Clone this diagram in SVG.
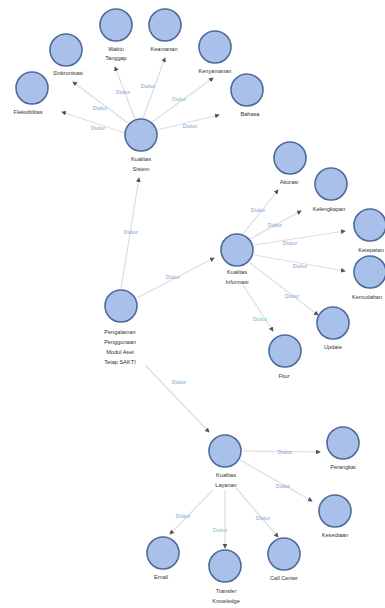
<svg xmlns="http://www.w3.org/2000/svg" width="385" height="608" viewBox="0 0 385 608">
  <defs>
    <marker id="arr" viewBox="0 0 6 6" refX="5" refY="3" markerWidth="4" markerHeight="4" orient="auto">
      <path d="M0,0 L6,3 L0,6 z" fill="#555"/>
    </marker>
  </defs>
  <style>
    .node circle { fill: #a9c0ea; stroke: #4d6b99; stroke-width: 1.6; }
    .node text { font-family: "Liberation Sans", Arial, sans-serif; font-size: 5.6px; fill: #333; text-anchor: middle; }
    .edges line { stroke: #dedede; stroke-width: 1.2; marker-end: url(#arr); }
    .edges text { font-family: "Liberation Sans", Arial, sans-serif; font-size: 5px; fill: #7aa3d6; text-anchor: middle; }
    .edges text.teal { fill: #6fc0b8; }
  </style>
  <rect width="385" height="608" fill="#ffffff"/>

  <g class="edges" id="edges">
    <!-- root branches -->
    <line x1="121" y1="289" x2="139" y2="178"/>
    <text x="131" y="234">Diukur</text>
    <line x1="137" y1="298" x2="214" y2="258"/>
    <text x="173" y="279">Diukur</text>
    <line x1="145" y1="365" x2="209" y2="432"/>
    <text x="179" y="384">Diukur</text>

    <!-- Kualitas Sistem -->
    <line x1="125" y1="133" x2="62" y2="112"/>
    <text x="98" y="130">Diukur</text>
    <line x1="128" y1="123" x2="73" y2="82"/>
    <text x="100" y="110">Diukur</text>
    <line x1="135" y1="119" x2="115" y2="67"/>
    <text x="123" y="94">Diukur</text>
    <line x1="143" y1="118" x2="165" y2="58"/>
    <text x="148" y="88">Diukur</text>
    <line x1="152" y1="122" x2="213" y2="78"/>
    <text x="179" y="101" class="teal">Diukur</text>
    <line x1="157" y1="130" x2="219" y2="115"/>
    <text x="190" y="128">Diukur</text>

    <!-- Kualitas Informasi -->
    <line x1="243" y1="234" x2="278" y2="190"/>
    <text x="258" y="212">Diukur</text>
    <line x1="250" y1="239" x2="301" y2="211"/>
    <text x="275" y="227">Diukur</text>
    <line x1="254" y1="245" x2="345" y2="231"/>
    <text x="290" y="245">Diukur</text>
    <line x1="254" y1="255" x2="345" y2="271"/>
    <text x="300" y="268">Diukur</text>
    <line x1="250" y1="263" x2="318" y2="315"/>
    <text x="292" y="298">Diukur</text>
    <line x1="243" y1="285" x2="273" y2="331"/>
    <text x="260" y="321" class="teal">Diukur</text>

    <!-- Kualitas Layanan -->
    <line x1="243" y1="451" x2="320" y2="452"/>
    <text x="285" y="454">Diukur</text>
    <line x1="240" y1="460" x2="312" y2="501"/>
    <text x="283" y="488">Diukur</text>
    <line x1="213" y1="490" x2="170" y2="534"/>
    <text x="183" y="518">Diukur</text>
    <line x1="225" y1="490" x2="225" y2="548"/>
    <text x="220" y="532" class="teal">Diukur</text>
    <line x1="236" y1="488" x2="278" y2="537"/>
    <text x="263" y="520">Diukur</text>
  </g>

  <!-- central node -->
  <g class="node" id="root">
    <circle cx="121" cy="306" r="16"/>
    <text x="120" y="334">Pengalaman</text>
    <text x="120" y="344">Penggunaan</text>
    <text x="120" y="354">Modul Aset</text>
    <text x="120" y="364">Tetap SAKTI</text>
  </g>

  <!-- Kualitas Sistem branch -->
  <g class="node" id="kualitas-sistem">
    <circle cx="141" cy="135" r="16"/>
    <text x="141" y="161">Kualitas</text>
    <text x="141" y="171">Sistem</text>
  </g>
  <g class="node" id="fleksibilitas">
    <circle cx="32" cy="88" r="16"/>
    <text x="28" y="114">Fleksibilitas</text>
  </g>
  <g class="node" id="sinkronisasi">
    <circle cx="66" cy="50" r="16"/>
    <text x="68" y="75">Sinkronisasi</text>
  </g>
  <g class="node" id="waktu-tanggap">
    <circle cx="116" cy="25" r="16"/>
    <text x="116" y="51">Waktu</text>
    <text x="116" y="60">Tanggap</text>
  </g>
  <g class="node" id="keamanan">
    <circle cx="165" cy="25" r="16"/>
    <text x="164" y="51">Keamanan</text>
  </g>
  <g class="node" id="kenyamanan">
    <circle cx="215" cy="47" r="16"/>
    <text x="215" y="73">Kenyamanan</text>
  </g>
  <g class="node" id="bahasa">
    <circle cx="247" cy="90" r="16"/>
    <text x="250" y="116">Bahasa</text>
  </g>

  <!-- Kualitas Informasi branch -->
  <g class="node" id="kualitas-informasi">
    <circle cx="237" cy="250" r="16"/>
    <text x="237" y="274">Kualitas</text>
    <text x="237" y="284">Informasi</text>
  </g>
  <g class="node" id="akurasi">
    <circle cx="290" cy="158" r="16"/>
    <text x="289" y="184">Akurasi</text>
  </g>
  <g class="node" id="kelengkapan">
    <circle cx="331" cy="184" r="16"/>
    <text x="329" y="211">Kelengkapan</text>
  </g>
  <g class="node" id="ketepatan-waktu">
    <circle cx="370" cy="225" r="16"/>
    <text x="371" y="252">Ketepatan</text>
    <text x="371" y="262">Waktu</text>
  </g>
  <g class="node" id="kemudahan">
    <circle cx="370" cy="272" r="16"/>
    <text x="367" y="299">Kemudahan</text>
  </g>
  <g class="node" id="update">
    <circle cx="333" cy="323" r="16"/>
    <text x="333" y="349">Update</text>
  </g>
  <g class="node" id="fitur">
    <circle cx="285" cy="351" r="16"/>
    <text x="284" y="378">Fitur</text>
  </g>

  <!-- Kualitas Layanan branch -->
  <g class="node" id="kualitas-layanan">
    <circle cx="225" cy="451" r="16"/>
    <text x="226" y="477">Kualitas</text>
    <text x="226" y="487">Layanan</text>
  </g>
  <g class="node" id="perangkat">
    <circle cx="343" cy="443" r="16"/>
    <text x="343" y="469">Perangkat</text>
  </g>
  <g class="node" id="kesediaan">
    <circle cx="335" cy="511" r="16"/>
    <text x="335" y="537">Kesediaan</text>
  </g>
  <g class="node" id="email">
    <circle cx="163" cy="553" r="16"/>
    <text x="161" y="579">Email</text>
  </g>
  <g class="node" id="transfer-knowledge">
    <circle cx="225" cy="566" r="16"/>
    <text x="226" y="593">Transfer</text>
    <text x="226" y="603">Knowledge</text>
  </g>
  <g class="node" id="call-center">
    <circle cx="284" cy="554" r="16"/>
    <text x="284" y="580">Call Center</text>
  </g>
</svg>
